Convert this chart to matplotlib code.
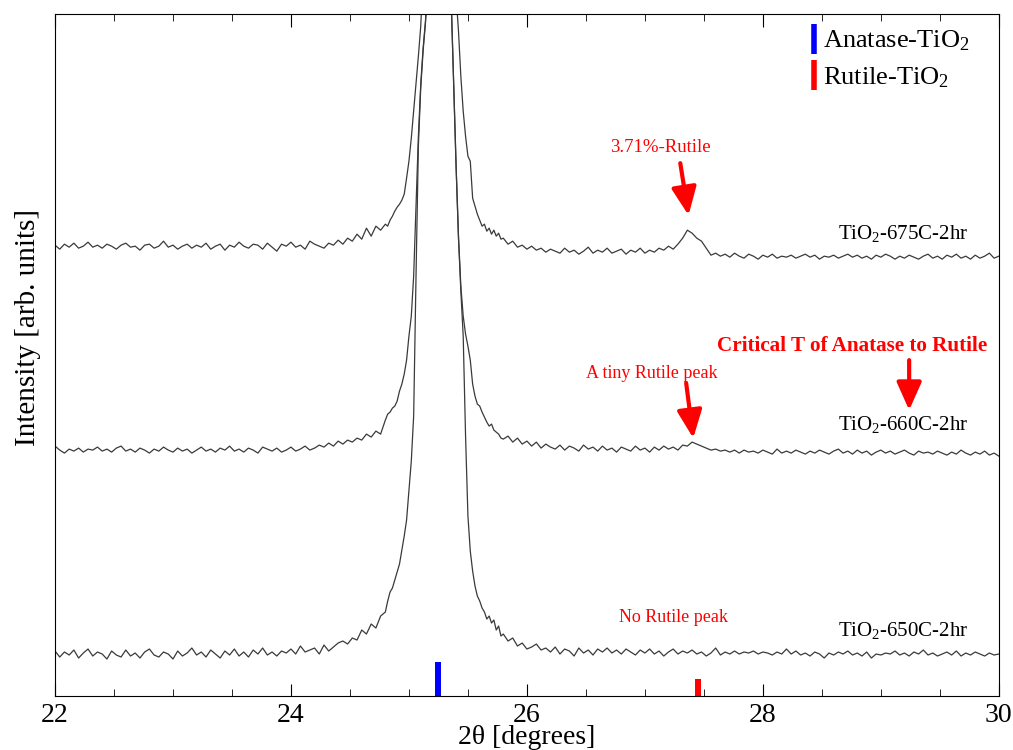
import numpy as np
import matplotlib
matplotlib.use("Agg")
import matplotlib.pyplot as plt
from matplotlib.lines import Line2D

plt.rcParams["font.family"] = ["Liberation Serif", "DejaVu Serif"]
plt.rcParams["mathtext.default"] = "regular"

# 2-theta scan grid (finer step around the anatase (101) peak)
two_theta = np.round(np.concatenate([
    np.arange(22.0, 24.79, 0.04),
    np.arange(24.80, 25.79, 0.02),
    np.arange(25.80, 30.01, 0.04),
]), 2)

# intensities, arb. units (curves already offset)
i_675 = [
    451, 447, 452, 449, 453, 448, 450, 454, 449, 451,
    448, 452, 450, 447, 451, 453, 449, 450, 446, 451,
    452, 448, 450, 455, 449, 451, 447, 450, 452, 448,
    451, 449, 453, 447, 450, 452, 446, 451, 449, 454,
    450, 448, 452, 451, 447, 453, 449, 445, 452, 450,
    454, 449, 451, 447, 455, 452, 450, 448, 453, 451,
    456, 452, 458, 455, 462, 457, 468, 460, 470, 466,
    # peak region
    472, 470, 476, 480, 485, 489, 492, 496, 502, 518,
    535, 558, 585, 612, 640, 670, 720, 800, 900, 1050,
    1250, 1450, 1600, 1700, 1650, 1500, 1250, 1000, 850, 760,
    700, 665, 620, 585, 560, 540, 535, 498, 490, 482,
    476, 470, 472, 465, 468, 462, 466, 460, 463, 457,
    # right side
    458, 452, 455, 449, 451, 447, 450, 446, 448, 444,
    447, 445, 443, 448, 444, 446, 442, 445, 449, 443,
    446, 444, 448, 443, 445, 447, 442, 446, 444, 448,
    443, 446, 444, 448, 446, 450, 447, 452, 458, 466,
    463, 458, 455, 448, 441, 443, 440, 442, 439, 443,
    440, 438, 442, 440, 437, 441, 439, 442, 438, 440,
    439, 441, 438, 440, 442, 439, 441, 437, 440, 439,
    441, 438, 440, 442, 439, 441, 438, 440, 437, 441,
    439, 442, 440, 437, 440, 438, 441, 439, 437, 440,
    442, 438, 440, 437, 441, 439, 442, 438, 440, 437,
    441, 438, 440, 443, 438, 440,
]

i_660 = [
    250, 246, 243, 247, 245, 248, 244, 247, 246, 249,
    245, 247, 244, 248, 250, 245, 247, 244, 248, 246,
    243, 247, 245, 249, 246, 244, 248, 245, 247, 243,
    246, 249, 245, 247, 244, 248, 246, 250, 245, 247,
    244, 248, 246, 243, 249, 247, 245, 248, 244, 246,
    249, 245, 247, 250, 246, 248, 251, 249, 253, 250,
    255, 252, 256, 254, 258, 256, 262, 259, 265, 262,
    # peak region
    276, 282, 284, 288, 290, 295, 305, 312, 322, 336,
    360, 380, 420, 490, 560, 612, 648, 675, 715, 800,
    950, 1150, 1350, 1450, 1400, 1250, 1000, 820, 690, 610,
    530, 460, 410, 380, 362, 350, 336, 312, 300, 292,
    290, 284, 279, 274, 270, 272, 266, 264, 262, 258,
    # right side
    257, 260, 254, 258, 252, 255, 250, 254, 248, 252,
    249, 247, 251, 246, 250, 248, 245, 251, 247, 249,
    245, 250, 246, 248, 244, 249, 247, 245, 250, 246,
    248, 244, 249, 246, 250, 247, 249, 246, 251, 250,
    254, 252, 250, 248, 246, 247, 245, 246, 244, 246,
    243, 246, 244, 245, 243, 246, 244, 242, 247, 243,
    245, 243, 246, 244, 242, 245, 243, 246, 244, 242,
    245, 247, 243, 245, 242, 246, 243, 245, 241, 244,
    246, 243, 245, 242, 244, 246, 243, 241, 245, 243,
    244, 242, 245, 243, 241, 244, 242, 246, 243, 241,
    244, 242, 245, 241, 243, 240,
]

i_650 = [
    45, 39, 44, 41, 46, 38, 43, 47, 40, 44,
    42, 37, 45, 41, 39, 46, 40, 43, 38, 44,
    47, 41, 39, 44, 42, 37, 45, 40, 43, 48,
    41, 44, 39, 46, 42, 38, 45, 41, 47, 40,
    44, 39, 46, 42, 48, 41, 44, 40, 45, 43,
    47, 42, 50, 44, 46, 48, 42, 51, 45, 49,
    53, 55, 52, 58, 56, 66, 62, 72, 68, 80,
    # peak region
    84, 95, 104, 108, 116, 124, 132, 146, 160, 176,
    205, 235, 280, 420, 550, 608, 645, 673, 712, 798,
    945, 1145, 1345, 1445, 1395, 1245, 995, 818, 688, 608,
    528, 458, 405, 360, 260, 180, 145, 125, 110, 100,
    95, 88, 84, 77, 80, 73, 76, 66, 70, 60,
    # right side
    62, 55, 58, 50, 53, 47, 49, 52, 46, 48,
    44, 49, 42, 47, 45, 40, 48, 43, 46, 41,
    47, 44, 48, 43, 46, 42, 47, 44, 41, 46,
    43, 47, 42, 45, 40, 44, 47, 42, 45, 43,
    46, 42, 44, 40, 43, 48, 41, 44, 42, 45,
    42, 44, 43, 45, 42, 44, 43, 41, 44, 42,
    47, 42, 45, 41, 43, 40, 44, 42, 38, 43,
    41, 44, 42, 45, 41, 43, 40, 44, 38, 42,
    41, 43, 42, 45, 41, 43, 40, 44, 42, 46,
    41, 43, 40, 42, 44, 41, 45, 40, 43, 41,
    44, 42, 40, 43, 41, 42,
]

sample_labels = ["TiO$_2$-675C-2hr", "TiO$_2$-660C-2hr", "TiO$_2$-650C-2hr"]

# reference reflections
ref_names = ["Anatase-TiO$_2$", "Rutile-TiO$_2$"]
ref_pos = [25.25, 27.45]
ref_height = [34, 17]
ref_colors = ["blue", "red"]

fig = plt.figure(figsize=(10.13, 7.5), dpi=100)
ax = fig.add_axes([0.0543, 0.072, 0.9317, 0.909])

line_kw = dict(color="#3a3a3a", lw=0.9)
ax.plot(two_theta, i_675, **line_kw)
ax.plot(two_theta, i_660, **line_kw)
ax.plot(two_theta, i_650, **line_kw)

ax.bar(ref_pos, ref_height, width=0.05, color=ref_colors)

# sample names
for lab, yy in zip(sample_labels, [463, 272, 66]):
    ax.text(28.64, yy, lab, fontsize=15, va="center", ha="left")

# annotations
arr = dict(arrowstyle="-|>,head_width=0.38,head_length=0.85", color="red",
           lw=3, mutation_scale=20, shrinkA=0, shrinkB=0)
ax.text(27.13, 549, "3.71%-Rutile", color="red", fontsize=13.5, ha="center", va="center")
ax.annotate("", xy=(27.37, 481), xytext=(27.30, 533), arrowprops=arr)
ax.text(27.06, 323, "A tiny Rutile peak", color="red", fontsize=13, ha="center", va="center")
ax.annotate("", xy=(27.41, 258), xytext=(27.35, 313), arrowprops=arr)
ax.text(28.76, 350, "Critical T of Anatase to Rutile", color="red", fontsize=15.2,
        fontweight="bold", ha="center", va="center")
ax.annotate("", xy=(29.24, 286), xytext=(29.24, 336), arrowprops=arr)
ax.text(27.24, 79, "No Rutile peak", color="red", fontsize=13, ha="center", va="center")

handles = [Line2D([], [], ls="none", marker="|", ms=22, mew=4, color=c) for c in ref_colors]
ax.legend(handles, ref_names, loc="upper left", bbox_to_anchor=(0.78, 1.0), frameon=False,
          fontsize=19, handlelength=0.6, handletextpad=0.05, labelspacing=0.45,
          borderaxespad=0.15)

ax.set_xlim(22, 30)
ax.set_ylim(0, 682)
ax.set_xticks([22, 24, 26, 28, 30])
ax.set_xticks(np.arange(22, 30.01, 0.5), minor=True)
ax.set_yticks([])
ax.tick_params(axis="x", which="both", direction="in", top=True, labelsize=20, pad=5)
ax.tick_params(axis="x", which="major", length=9)
ax.tick_params(axis="x", which="minor", length=5)
ax.set_xlabel("2θ [degrees]", fontsize=20, labelpad=-2)
ax.set_ylabel("Intensity [arb. units]", fontsize=21)
ax.yaxis.set_label_coords(-0.015, 0.54)

fig.savefig("out.png", dpi=100)
